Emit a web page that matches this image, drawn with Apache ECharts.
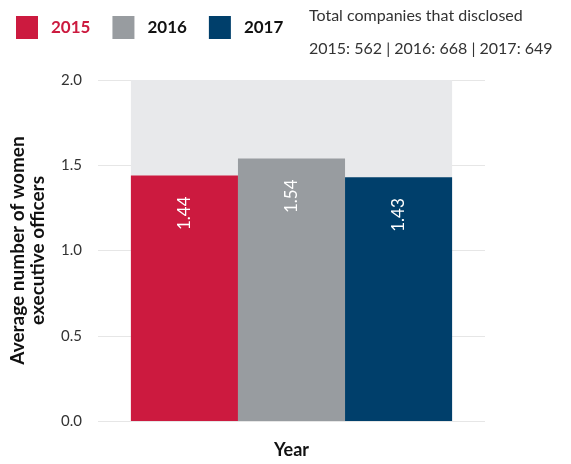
<!DOCTYPE html>
<html>
<head>
<meta charset="utf-8">
<script src="https://cdn.jsdelivr.net/npm/echarts@6/dist/echarts.min.js"></script>
<style>
  html, body { margin: 0; padding: 0; background: #fff; }
  #chart { width: 571px; height: 464px; }
</style>
</head>
<body>
<div id="chart"></div>
<script>
// data
const years = ['2015', '2016', '2017']
const avgWomenOfficers = [1.44, 1.54, 1.43]
const disclosedCounts = [562, 668, 649]
const yTicks = [0, 0.5, 1, 1.5, 2]

const colors = ['#cc1a3f', '#989ca0', '#003f6b']
const legendText = ['#cc1a3f', '#111', '#111']
const font = 'Lato'

const chart = echarts.init(document.getElementById('chart'))

const noteLine = years.map((y, i) => y + ': ' + disclosedCounts[i]).join(' | ')

chart.setOption({
  backgroundColor: '#fff',
  animation: false,
  textStyle: { fontFamily: font },
  title: {
    text: 'Total companies that disclosed\n' + noteLine,
    left: 304,
    top: -6,
    textStyle: { fontFamily: font, fontSize: 16, fontWeight: 'normal', color: '#333', lineHeight: 33 }
  },
  legend: {
    left: 16,
    top: 16,
    padding: 0,
    itemWidth: 22,
    itemHeight: 23,
    itemGap: 22,
    icon: 'rect',
    data: years.map((y, i) => ({
      name: y,
      textStyle: { color: legendText[i], fontSize: 17, fontWeight: 'bold', fontFamily: font, padding: [0, 0, 0, 8] }
    }))
  },
  grid: { left: 98, right: 86, top: 80, bottom: 43, containLabel: false, outerBoundsMode: 'none' },
  xAxis: {
    type: 'category',
    data: [''],
    name: 'Year',
    nameLocation: 'middle',
    nameGap: 20,
    nameTextStyle: { fontSize: 18, fontWeight: 'bold', color: '#111', fontFamily: font, verticalAlign: 'top' },
    axisLine: { show: false },
    axisTick: { show: false },
    axisLabel: { show: false }
  },
  yAxis: {
    type: 'value',
    min: yTicks[0],
    max: yTicks[yTicks.length - 1],
    interval: 0.5,
    name: 'Average number of women\nexecutive officers',
    nameLocation: 'middle',
    nameGap: 50,
    nameTextStyle: { fontSize: 19, fontWeight: 'bold', color: '#111', fontFamily: font, lineHeight: 20 },
    axisLabel: {
      margin: 16,
      fontSize: 15,
      color: '#333',
      formatter: v => v.toFixed(1)
    },
    splitLine: { lineStyle: { color: '#e6e6e6', width: 1 } }
  },
  series: years.map((y, i) => ({
    name: y,
    type: 'bar',
    barGap: 0,
    barCategoryGap: '17%',
    data: [avgWomenOfficers[i]],
    itemStyle: { color: colors[i] },
    showBackground: true,
    backgroundStyle: { color: '#e8e9eb' },
    label: {
      show: true,
      position: 'insideTop',
      rotate: 90,
      align: 'right',
      verticalAlign: 'middle',
      distance: 21,
      color: '#fff',
      fontSize: 17,
      fontFamily: font,
      formatter: p => p.value.toFixed(2)
    }
  }))
})
</script>
</body>
</html>
